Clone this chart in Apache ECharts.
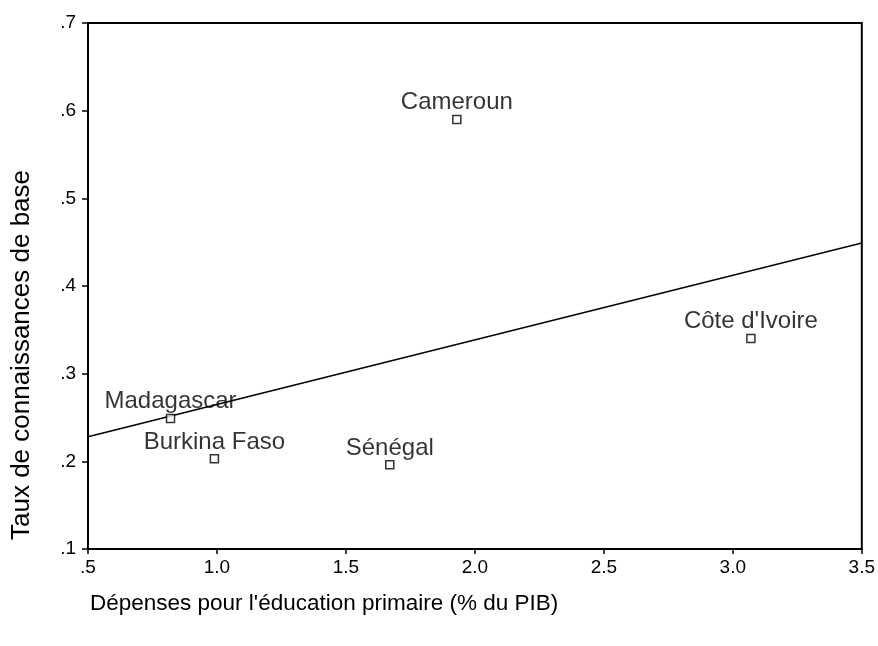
<!DOCTYPE html>
<html>
<head>
<meta charset="utf-8">
<script src="https://cdn.jsdelivr.net/npm/echarts@6/dist/echarts.min.js"></script>
<style>
  html, body { margin: 0; padding: 0; background: #fff; }
  #main { width: 878px; height: 646px; }
</style>
</head>
<body>
<div id="main"></div>
<script>
// pays et valeurs
var pays = ['Cameroun', "Côte d'Ivoire", 'Madagascar', 'Burkina Faso', 'Sénégal'];
var depenses = [1.93, 3.07, 0.82, 0.99, 1.67];
var tauxBase = [0.590, 0.340, 0.249, 0.203, 0.196];
// droite de régression (extrémités lues)
var droiteX = [0.5, 3.5];
var droiteY = [0.228, 0.449];
// libellés des graduations
var xTicks = ['.5', '1.0', '1.5', '2.0', '2.5', '3.0', '3.5'];
var yTicks = ['.1', '.2', '.3', '.4', '.5', '.6', '.7'];

var police = 'Arial, "Liberation Sans", sans-serif';

var points = pays.map(function (p, i) {
  return { name: p, value: [depenses[i], tauxBase[i]] };
});
var droite = droiteX.map(function (x, i) { return [x, droiteY[i]]; });

var myChart = echarts.init(document.getElementById('main'));
var option = {
  animation: false,
  backgroundColor: '#fff',
  grid: {
    left: 88, right: 10, top: 23, bottom: 97,
    show: true, borderColor: '#000', borderWidth: 2
  },
  xAxis: {
    type: 'value', min: 0.5, max: 3.5, interval: 0.5,
    axisLine: { show: true, onZero: false, lineStyle: { color: '#000', width: 2 } },
    axisTick: { show: true, length: 5, lineStyle: { color: '#000', width: 1.5 } },
    splitLine: { show: false },
    axisLabel: {
      margin: 9, color: '#000', fontSize: 19, fontFamily: police,
      formatter: function (v) { return xTicks[Math.round((v - 0.5) / 0.5)]; }
    }
  },
  yAxis: {
    type: 'value', min: 0.1, max: 0.7, interval: 0.1,
    axisLine: { show: true, onZero: false, lineStyle: { color: '#000', width: 2 } },
    axisTick: { show: true, length: 6, lineStyle: { color: '#000', width: 1.5 } },
    splitLine: { show: false },
    axisLabel: {
      margin: 12, color: '#000', fontSize: 19, fontFamily: police,
      formatter: function (v) { return yTicks[Math.round((v - 0.1) / 0.1)]; }
    }
  },
  graphic: [
    {
      type: 'text', left: 90, top: 592,
      style: { text: "Dépenses pour l'éducation primaire (% du PIB)", fill: '#000', fontSize: 22.5, fontFamily: police }
    },
    {
      type: 'text', x: 22, y: 355, rotation: Math.PI / 2,
      style: { text: 'Taux de connaissances de base', fill: '#000', fontSize: 26, fontFamily: police,
        align: 'center', verticalAlign: 'middle' }
    }
  ],
  series: [
    {
      type: 'line',
      data: droite,
      showSymbol: false,
      symbol: 'none',
      lineStyle: { color: '#000', width: 1.5 },
      z: 2
    },
    {
      type: 'scatter',
      data: points,
      symbol: 'rect',
      symbolSize: 8,
      itemStyle: { color: '#fff', borderColor: '#000', borderWidth: 1.5 },
      label: {
        show: true, position: 'top', distance: 0,
        formatter: '{b}', color: '#000', fontSize: 24, fontFamily: police
      },
      z: 3
    }
  ]
};
myChart.setOption(option);
</script>
</body>
</html>
